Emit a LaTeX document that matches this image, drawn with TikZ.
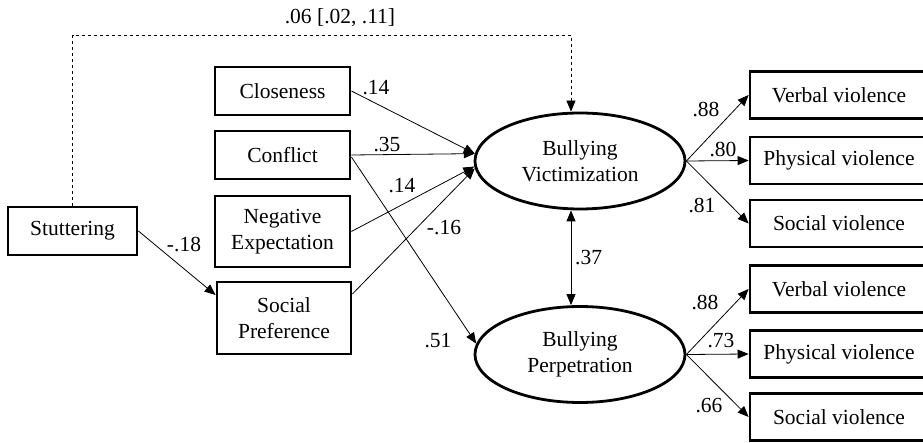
\documentclass[tikz,border=0pt]{standalone}
\usepackage{fontspec}
\setmainfont{Liberation Serif}
\usetikzlibrary{arrows.meta,calc,shapes.geometric}
\begin{document}
\begin{tikzpicture}[x=1pt,y=-1pt,
  every node/.style={font=\fontsize{21.5}{26}\selectfont},
  obs/.style={draw,line width=2.8pt,rectangle,inner sep=0pt,align=center},
  latent/.style={draw,line width=2.8pt,ellipse,inner sep=0pt,align=center,minimum width=210pt,minimum height=96pt},
  path/.style={line width=0.8pt,-{Triangle[length=11pt,width=9pt]}},
  coef/.style={inner sep=0pt,anchor=base}
]
\useasboundingbox (0,0) rectangle (923,443);
\clip (0,0) rectangle (923,443);

% predictors
\node[obs,minimum width=129pt,minimum height=48pt] (stut) at (72.5,231) {Stuttering};
\node[obs,minimum width=135pt,minimum height=48pt] (clos) at (282.5,91) {Closeness};
\node[obs,minimum width=135pt,minimum height=48pt] (conf) at (282.5,155) {Conflict};
\node[obs,minimum width=135pt,minimum height=71pt] (negx) at (282.5,231.5) {Negative\\Expectation};
\node[obs,minimum width=134pt,minimum height=72pt] (socp) at (284,318) {Social\\Preference};

% latent outcomes
\node[latent] (vict) at (580,161) {Bullying\\Victimization};
\node[latent] (perp) at (580,354.5) {Bullying\\Perpetration};

% indicators (right edge runs off the page)
\foreach \n/\y/\t in {v1/95/Verbal violence, p1/160.5/Physical violence, s1/223.5/Social violence,
                      v2/289/Verbal violence, p2/354/Physical violence, s2/417/Social violence}
  \node[obs,minimum width=178pt,minimum height=47pt] (\n) at (839,\y) {\t};

% indirect effect
\coordinate (top) at (571,35);
\draw[dashed,line width=0.8pt,-{Triangle[length=11pt,width=9pt]}]
  (stut.north) |- (top) -- (top |- vict.north);
\node[coef] at (340,24) {.06 [.02, .11]};

% direct paths
\draw[path] (clos.east) -- (vict.176.5);
\draw[path] (conf.east) -- (vict.176.5);
\draw[path] (negx.east) -- (vict.183);
\draw[path] ([yshift=24pt]socp.east) -- (vict.184.5);
\draw[path] ([yshift=-2pt]conf.east) -- (perp.174);
\draw[path] (stut.east) -- ([yshift=23pt]socp.west);
\draw[line width=0.8pt,{Triangle[length=11pt,width=9pt]}-{Triangle[length=11pt,width=9pt]}]
  ([xshift=-9pt]vict.south) -- ([xshift=-9pt]perp.north);

% loadings
\foreach \a/\b in {vict/v1, vict/p1, vict/s1, perp/v2, perp/p2, perp/s2}
  \draw[path] (\a.east) -- (\b.west);

% coefficients
\node[coef] at (376,95) {.14};
\node[coef] at (387,152) {.35};
\node[coef] at (402,193) {.14};
\node[coef] at (444,235) {-.16};
\node[coef] at (438,348) {.51};
\node[coef] at (184,252) {-.18};
\node[coef,anchor=base west] at (575,265) {.37};
\node[coef] at (706,117) {.88};
\node[coef] at (723,157) {.80};
\node[coef] at (702,213) {.81};
\node[coef] at (705,310) {.88};
\node[coef] at (721,347) {.73};
\node[coef] at (709,412) {.66};
\end{tikzpicture}
\end{document}
